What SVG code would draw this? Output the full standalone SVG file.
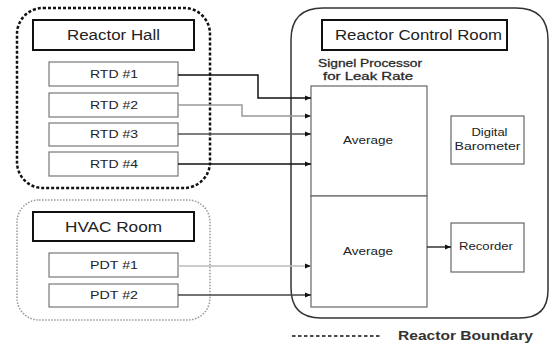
<svg xmlns="http://www.w3.org/2000/svg" width="554" height="344" viewBox="0 0 554 344">
<defs>
<style>
.t{font-family:"Liberation Sans",Arial,sans-serif;fill:#222;text-anchor:middle}
.title{fill:#fff;stroke:#111;stroke-width:2}
.dev{fill:#fff;stroke:#777;stroke-width:1.2}
.box{fill:#fff;stroke:#666;stroke-width:1.2}
.c{fill:none;stroke-width:1.5}
</style>
<marker id="ah" viewBox="0 0 10 10" refX="10" refY="5" markerWidth="8" markerHeight="6" orient="auto" markerUnits="userSpaceOnUse">
<path d="M0,1 L10,5 L0,9 z" fill="#111"/>
</marker>
</defs>
<rect width="554" height="344" fill="#fff"/>

<g id="reactor-hall">
<rect x="17" y="8" width="193" height="180" rx="26" fill="none" stroke="#111" stroke-width="2.5" stroke-dasharray="3 2"/>
<rect class="title" x="33" y="20" width="161" height="30"/>
<text class="t" x="113.5" y="40" font-size="14" textLength="93" lengthAdjust="spacingAndGlyphs">Reactor Hall</text>
</g>
<g id="rtd1"><rect class="dev" x="49" y="62" width="129" height="24"/><text class="t" x="114" y="78" font-size="11" textLength="48" lengthAdjust="spacingAndGlyphs">RTD #1</text></g>
<g id="rtd2"><rect class="dev" x="49" y="93" width="129" height="24"/><text class="t" x="114" y="109" font-size="11" textLength="48" lengthAdjust="spacingAndGlyphs">RTD #2</text></g>
<g id="rtd3"><rect class="dev" x="49" y="123" width="129" height="23"/><text class="t" x="114" y="138" font-size="11" textLength="48" lengthAdjust="spacingAndGlyphs">RTD #3</text></g>
<g id="rtd4"><rect class="dev" x="49" y="152" width="129" height="24"/><text class="t" x="114" y="168" font-size="11" textLength="48" lengthAdjust="spacingAndGlyphs">RTD #4</text></g>

<g id="hvac-room">
<rect x="17" y="200" width="193" height="120" rx="22" fill="none" stroke="#999" stroke-width="1.5" stroke-dasharray="1.5 1.5"/>
<rect class="title" x="33" y="212" width="161" height="29"/>
<text class="t" x="113.5" y="232" font-size="14" textLength="97" lengthAdjust="spacingAndGlyphs">HVAC Room</text>
</g>
<g id="pdt1"><rect class="dev" x="49" y="253" width="129" height="24"/><text class="t" x="114" y="269" font-size="11" textLength="48" lengthAdjust="spacingAndGlyphs">PDT #1</text></g>
<g id="pdt2"><rect class="dev" x="49" y="284" width="129" height="23" stroke="#333"/><text class="t" x="114" y="299" font-size="11" textLength="48" lengthAdjust="spacingAndGlyphs">PDT #2</text></g>

<g id="control-room">
<path d="M323,8 H516 Q548,8 548,40 V290 Q548,318 520,318 H321 Q291,318 291,288 V40 Q291,8 323,8 Z" fill="none" stroke="#333" stroke-width="1.5"/>
<rect class="title" x="322" y="20" width="185" height="30"/>
<text class="t" x="418.5" y="40" font-size="14" textLength="167" lengthAdjust="spacingAndGlyphs">Reactor Control Room</text>
<text class="t" x="370" y="67" font-size="11" fill="#333" stroke="#333" stroke-width="0.3" textLength="104" lengthAdjust="spacingAndGlyphs">Signel Processor</text>
<text class="t" x="368" y="80" font-size="11" fill="#333" stroke="#333" stroke-width="0.3" textLength="90" lengthAdjust="spacingAndGlyphs">for Leak Rate</text>
</g>
<g id="average-1"><rect class="box" x="311" y="86" width="116" height="110"/><text class="t" x="368" y="144" font-size="11" textLength="50" lengthAdjust="spacingAndGlyphs">Average</text></g>
<g id="average-2"><rect class="box" x="311" y="196" width="116" height="111"/><text class="t" x="368" y="255" font-size="11" textLength="50" lengthAdjust="spacingAndGlyphs">Average</text></g>
<g id="barometer"><rect class="box" x="451" y="116" width="73" height="48"/><text class="t" x="489.5" y="136" font-size="11" textLength="36" lengthAdjust="spacingAndGlyphs">Digital</text><text class="t" x="487.5" y="150" font-size="11" textLength="66" lengthAdjust="spacingAndGlyphs">Barometer</text></g>
<g id="recorder"><rect class="box" x="451" y="223" width="73" height="49"/><text class="t" x="486" y="250" font-size="11" textLength="54" lengthAdjust="spacingAndGlyphs">Recorder</text></g>

<g id="connectors">
<path class="c" d="M178,75 H258 V98 H311" stroke="#111" stroke-width="2" marker-end="url(#ah)"/>
<path class="c" d="M178,105 H242 V116 H311" stroke="#999" stroke-width="1.5" marker-end="url(#ah)"/>
<path class="c" d="M178,134 H311" stroke="#555" stroke-width="2.2" marker-end="url(#ah)"/>
<path class="c" d="M178,164 H311" stroke="#111" stroke-width="1.3" marker-end="url(#ah)"/>
<path class="c" d="M178,266 H311" stroke="#bbb" stroke-width="1.5" marker-end="url(#ah)"/>
<path class="c" d="M178,295 H311" stroke="#444" stroke-width="1.2" marker-end="url(#ah)"/>
<path class="c" d="M427,247 H451" stroke="#333" stroke-width="1.5" marker-end="url(#ah)"/>
</g>

<g id="legend">
<line x1="292" y1="336" x2="380" y2="336" stroke="#111" stroke-width="1.5" stroke-dasharray="3.5 2.5"/>
<text x="398" y="340" font-family="Liberation Sans,Arial,sans-serif" font-size="13" font-weight="bold" fill="#333" textLength="135" lengthAdjust="spacingAndGlyphs">Reactor Boundary</text>
</g>
</svg>
